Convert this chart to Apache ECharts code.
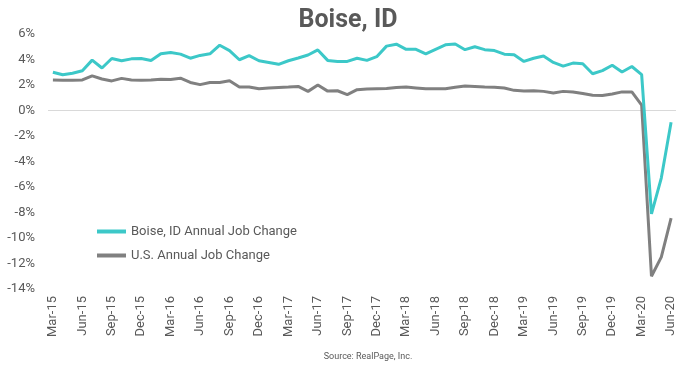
<!DOCTYPE html>
<html>
<head>
<meta charset="utf-8">
<script src="https://cdn.jsdelivr.net/npm/echarts@6/dist/echarts.min.js"></script>
<style>
html,body{margin:0;padding:0;background:#fff;}
#chart{width:680px;height:365px;}
</style>
</head>
<body>
<div id="chart"></div>
<script>
const categories = [
 'Mar-15','Apr-15','May-15','Jun-15','Jul-15','Aug-15','Sep-15','Oct-15','Nov-15','Dec-15','Jan-16','Feb-16',
 'Mar-16','Apr-16','May-16','Jun-16','Jul-16','Aug-16','Sep-16','Oct-16','Nov-16','Dec-16','Jan-17','Feb-17',
 'Mar-17','Apr-17','May-17','Jun-17','Jul-17','Aug-17','Sep-17','Oct-17','Nov-17','Dec-17','Jan-18','Feb-18',
 'Mar-18','Apr-18','May-18','Jun-18','Jul-18','Aug-18','Sep-18','Oct-18','Nov-18','Dec-18','Jan-19','Feb-19',
 'Mar-19','Apr-19','May-19','Jun-19','Jul-19','Aug-19','Sep-19','Oct-19','Nov-19','Dec-19','Jan-20','Feb-20',
 'Mar-20','Apr-20','May-20','Jun-20'
];
const boiseValues = [
 3.0, 2.8, 2.92, 3.12, 3.95, 3.33, 4.08, 3.9, 4.05, 4.08, 3.92, 4.45,
 4.55, 4.42, 4.1, 4.32, 4.45, 5.12, 4.7, 3.98, 4.3, 3.9, 3.77, 3.62,
 3.9, 4.12, 4.35, 4.75, 3.93, 3.85, 3.85, 4.1, 3.93, 4.22, 5.05, 5.2,
 4.8, 4.8, 4.45, 4.8, 5.15, 5.22, 4.77, 5.0, 4.77, 4.7, 4.42, 4.38,
 3.85, 4.1, 4.28, 3.77, 3.48, 3.72, 3.67, 2.88, 3.13, 3.55, 3.02, 3.45,
 2.82, -8.1, -5.3, -0.93
];
const usValues = [
 2.39, 2.37, 2.37, 2.4, 2.72, 2.47, 2.32, 2.52, 2.4, 2.38, 2.4, 2.45,
 2.44, 2.53, 2.2, 2.03, 2.2, 2.2, 2.33, 1.84, 1.85, 1.7, 1.76, 1.8,
 1.84, 1.89, 1.5, 2.0, 1.52, 1.55, 1.25, 1.63, 1.69, 1.71, 1.73, 1.8,
 1.84, 1.77, 1.7, 1.7, 1.7, 1.82, 1.92, 1.88, 1.84, 1.82, 1.76, 1.58,
 1.52, 1.55, 1.5, 1.38, 1.5, 1.45, 1.33, 1.2, 1.17, 1.3, 1.46, 1.46,
 0.42, -13.0, -11.5, -8.45
];
const seriesNames = ['Boise, ID Annual Job Change', 'U.S. Annual Job Change'];
const titleText = 'Boise, ID';
const sourceText = 'Source: RealPage, Inc.';

const txt = '#595959';
const chart = echarts.init(document.getElementById('chart'), null, {renderer:'canvas'});
chart.setOption({
  animation: false,
  backgroundColor: '#ffffff',
  textStyle: {fontFamily: 'Roboto'},
  title: [{
    text: titleText, left: 343, top: 3, textAlign: 'center',
    textStyle: {fontFamily: 'Roboto', fontWeight: 'bold', fontSize: 25, color: txt}
  }, {
    text: sourceText, left: 363, top: 347, textAlign: 'center',
    textStyle: {fontFamily: 'Roboto', fontWeight: 'normal', fontSize: 9, color: txt}
  }],
  legend: {
    orient: 'vertical', left: 92, top: 220, itemGap: 11,
    itemWidth: 29, itemHeight: 4, icon: 'rect',
    textStyle: {color: txt, fontSize: 13, fontFamily: 'Roboto'},
    data: seriesNames
  },
  grid: {left: 48, right: 4, top: 34, bottom: 76, containLabel: false},
  xAxis: {
    type: 'category', data: categories, boundaryGap: true,
    axisLine: {show: false}, axisTick: {show: false},
    axisLabel: {interval: 2, rotate: 90, color: txt, fontSize: 13, margin: 7, fontFamily: 'Roboto'},
    splitLine: {show: false}
  },
  yAxis: {
    type: 'value', min: -14, max: 6, interval: 2,
    axisLine: {show: false}, axisTick: {show: false}, splitLine: {show: false},
    axisLabel: {formatter: '{value}%', color: txt, fontSize: 13, margin: 13, fontFamily: 'Roboto'}
  },
  series: [{
    name: seriesNames[0], type: 'line', data: boiseValues, z: 3,
    symbol: 'none', lineStyle: {color: '#3cc8c8', width: 3}, itemStyle: {color: '#3cc8c8'},
    markLine: {silent: true, symbol: 'none', label: {show: false},
      lineStyle: {color: '#d9d9d9', width: 1, type: 'solid'}, data: [{yAxis: 0}], z: 1}
  }, {
    name: seriesNames[1], type: 'line', data: usValues, z: 2,
    symbol: 'none', lineStyle: {color: '#808080', width: 3}, itemStyle: {color: '#808080'}
  }]
});
</script>
</body>
</html>
